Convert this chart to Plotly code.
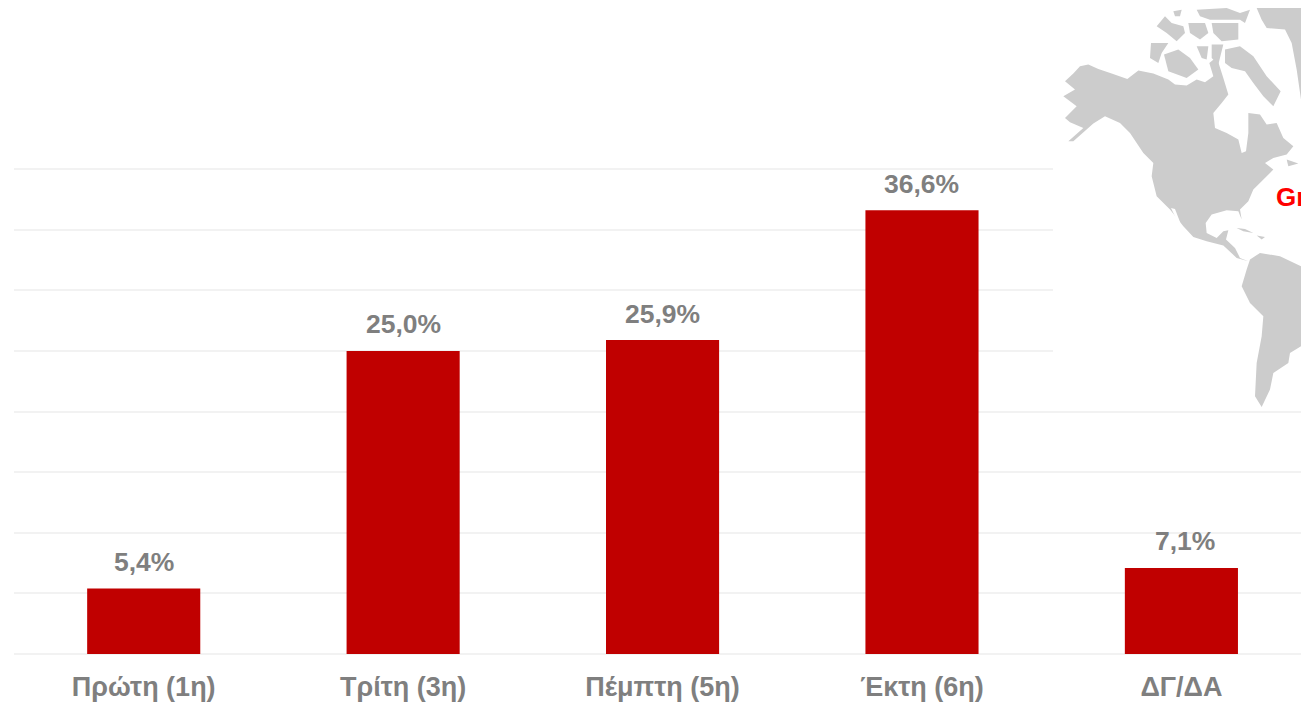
import plotly.graph_objects as go

# ---- chart data ----
categories = ["Πρώτη (1η)", "Τρίτη (3η)", "Πέμπτη (5η)", "Έκτη (6η)", "ΔΓ/ΔΑ"]
values = [5.4, 25.0, 25.9, 36.6, 7.1]
label_nudge = [0, 0, 0, 0, 4]
BAR_COLOR = "#C00000"
GREY = "#7F7F7F"
GRID = "#F2F2F2"
MAP = "#CCCCCC"

W, H = 1301, 702
L, T, B = 14, 157.4, 47.5
plot_w, plot_h = W - L, H - B - T


def px(x, y):
    return (x - L) / plot_w, (H - B - y) / plot_h


# decorative world-map backdrop, outlines traced in 3x crop pixels of the picture
map_outlines = [
    # North America mainland
    [(75,245),(100,222),(120,200),(145,195),(175,208),(215,222),(262,238),(295,213),(340,222),(385,240),(405,255),
     (440,258),(470,240),(495,248),(520,230),(508,190),(530,172),(550,235),(565,285),(545,310),(520,340),(525,385),
     (560,400),(595,420),(605,460),(618,455),(625,400),(625,340),(660,345),(680,375),(710,370),(730,415),(760,440),
     (740,465),(700,475),(675,490),(700,510),(665,545),(640,570),(625,605),(600,630),(605,660),(595,635),(560,632),
     (515,645),(497,670),(500,700),(530,715),(550,695),(565,692),(558,720),(585,745),(600,775),(625,785),(590,775),
     (550,738),(500,725),(460,712),(430,680),(390,630),(350,590),(335,530),(340,490),(310,460),(270,400),(240,370),
     (195,350),(160,372),(100,425),(85,425),(130,385),(90,368),(75,355),(110,320),(70,290),(105,270)],
    # South America
    [(630,780),(660,760),(720,770),(783,800),(783,1040),(750,1060),(745,1090),(700,1120),(690,1170),(665,1222),
     (645,1190),(650,1090),(665,1010),(670,950),(630,910),(605,860),(620,810)],
    # Greenland
    [(650,25),(783,25),(783,300),(770,210),(755,130),(735,90),(680,85),(665,60)],
    # Baffin
    [(555,150),(600,140),(640,170),(680,230),(722,275),(700,320),(670,290),(640,250),(615,215),(575,205),(555,190)],
    # Victoria
    [(372,165),(415,150),(450,175),(475,210),(440,235),(385,215)],
    # Banks
    [(333,130),(385,130),(365,160),(355,190),(330,175)],
    # Queen Elizabeth islands
    [(350,80),(375,50),(395,70),(430,80),(435,100),(410,125),(380,100)],
    [(400,35),(425,30),(420,50),(405,50)],
    [(445,70),(495,70),(505,100),(480,120),(450,100)],
    [(470,30),(560,25),(600,40),(630,30),(615,70),(600,60),(560,60),(510,60),(480,50)],
    [(515,70),(595,70),(595,120),(545,125),(520,100)],
    # Somerset / Boothia area
    [(470,140),(505,140),(500,180),(485,175)],
    [(515,135),(550,135),(535,195),(515,175)],
    # Caribbean
    [(590,685),(615,688),(640,700),(610,695)],
    [(650,708),(675,712),(665,720)],
    # Newfoundland
    [(740,480),(775,492),(745,500)],
]
white_gaps = [
    # Gulf of California
    [(393,625),(405,628),(425,680),(415,672)],
]

fig = go.Figure(go.Bar(x=categories, y=values, marker=dict(color=BAR_COLOR, line=dict(width=0)), width=0.436))

# value labels
for c, v, n in zip(categories, values, label_nudge):
    fig.add_annotation(x=c, y=v, text=f"{v:.1f}%".replace(".", ","), showarrow=False, yanchor="bottom",
                       yshift=9.5, xshift=n,
                       font=dict(family="Liberation Sans", size=26.5, color=GREY, weight="bold"))

shapes = [dict(type="rect", xref="paper", yref="paper", x0=px(1053, 0)[0], x1=px(W, 0)[0], y0=px(0, 409)[1],
               y1=px(0, 8)[1], fillcolor="white", line=dict(width=0), layer="above")]
for group, color in ((map_outlines, MAP), (white_gaps, "white")):
    for poly in group:
        pts = [px(1040 + a / 3, b / 3) for a, b in poly]
        path = "M " + " L ".join(f"{x:.5f},{y:.5f}" for x, y in pts) + " Z"
        shapes.append(dict(type="path", xref="paper", yref="paper", path=path, fillcolor=color,
                           line=dict(width=0), layer="above"))
fig.add_annotation(xref="paper", yref="paper", x=px(1274, 0)[0], y=px(0, 197)[1], text="Gr", showarrow=False,
                   xanchor="left", yanchor="middle", align="left",
                   font=dict(family="Liberation Sans", size=26, color="#FF0000", weight="bold"))

fig.update_layout(
    width=W, height=H, margin=dict(l=L, r=0, t=T, b=B), plot_bgcolor="white", paper_bgcolor="white",
    showlegend=False, shapes=shapes,
    xaxis=dict(type="category", range=[-0.5, 4.461], showgrid=False, showline=False, zeroline=False, ticks="",
               ticklabelstandoff=14, tickfont=dict(family="Liberation Sans", size=27, color=GREY, weight="bold")),
    yaxis=dict(range=[0, 41], dtick=5, showticklabels=False, showgrid=True, gridcolor=GRID, gridwidth=2,
               zeroline=True, zerolinecolor=GRID, zerolinewidth=2, showline=False, ticks=""),
)

fig.write_html("out.html", config={"displayModeBar": False},
               post_script="document.body.style.margin='0';document.documentElement.style.overflow='hidden';")
